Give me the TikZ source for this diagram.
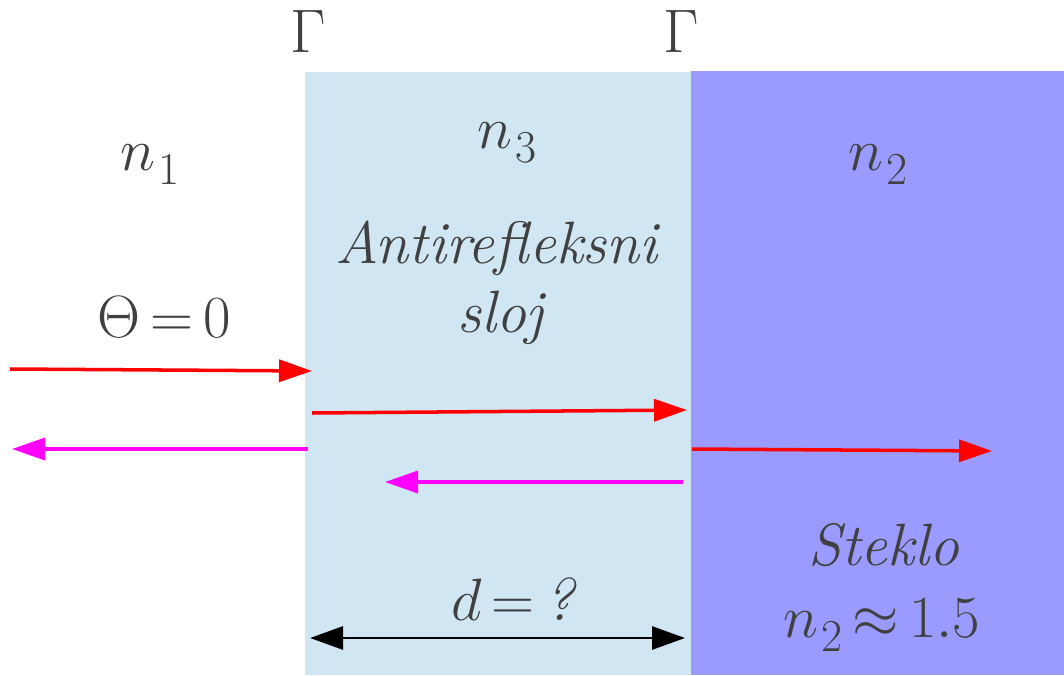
\RequirePackage{fix-cm}
\documentclass[tikz,border=0pt]{standalone}
\usetikzlibrary{arrows.meta}
\definecolor{layerblue}{RGB}{208,230,243}
\definecolor{glassviolet}{RGB}{155,155,255}
\definecolor{labelgray}{RGB}{64,64,64}
\definecolor{rayred}{RGB}{255,0,0}
\definecolor{raymagenta}{RGB}{255,0,255}
\newcommand{\nidx}[1]{$n$\kern0.05em\raisebox{-0.25em}{\fontsize{26}{26}\selectfont #1}}

\begin{document}
\begin{tikzpicture}[
  x=0.2mm, y=-0.2mm,
  every node/.style={font=\fontsize{34}{40}\selectfont, text=labelgray,
    inner sep=0pt, anchor=base, align=center},
  gamma/.style={font=\fontsize{35}{40}\selectfont},
  ray/.style={-{Triangle[length=6.6mm,width=4.4mm]}, line width=2pt},
  fwd/.style={ray, draw=rayred},
  back/.style={ray, draw=raymagenta},
  thick/.style={{Triangle[length=6.6mm,width=4.6mm]}-{Triangle[length=6.6mm,width=4.6mm]},
    line width=1.6pt, draw=black},
]
\useasboundingbox (0,0) rectangle (1064,675);

% media
\fill[layerblue]   (305,72) rectangle (691,675);
\fill[glassviolet] (691,71) rectangle (1064,675);

\node[gamma] at (308,53) (G1) {$\Gamma$};
\node[gamma] at (681,53) (G2) {$\Gamma$};

\node at (150,170) (n1) {\nidx{1}};
\node at (507,148) (n3) {\nidx{3}};
\node at (878,170) (n2) {\nidx{2}};

\node at (498,263) (layer) {\textit{Antirefleksni}};
\node at (502,332) (sloj)  {\textit{sloj}};
\node at (164,337) (theta) {$\Theta\,{=}\,0$};
\node at (514,620) (dq)    {$d\,{=}\,$\textit{?}};
\node at (884,565) (glass) {\textit{Steklo}};
\node at (882,637) (nglass) {\nidx{2}$\,{\approx}\,1.5$};

\coordinate (inL)  at (10,369);
\coordinate (inR)  at (312,371);
\coordinate (midL) at (312,413);
\coordinate (midR) at (687,410);
\coordinate (refR) at (308,449);
\coordinate (refL) at (12,449);
\coordinate (outL) at (692,449);
\coordinate (outR) at (992,451);
\coordinate (backR) at (683,482);
\coordinate (backL) at (385,482);
\coordinate (dL) at (310,638);
\coordinate (dR) at (685,638);

\draw[fwd]  (inL)   -- (inR);
\draw[fwd]  (midL)  -- (midR);
\draw[back] (refR)  -- (refL);
\draw[fwd]  (outL)  -- (outR);
\draw[back] (backR) -- (backL);
\draw[thick] (dL) -- (dR);
\end{tikzpicture}
\end{document}
